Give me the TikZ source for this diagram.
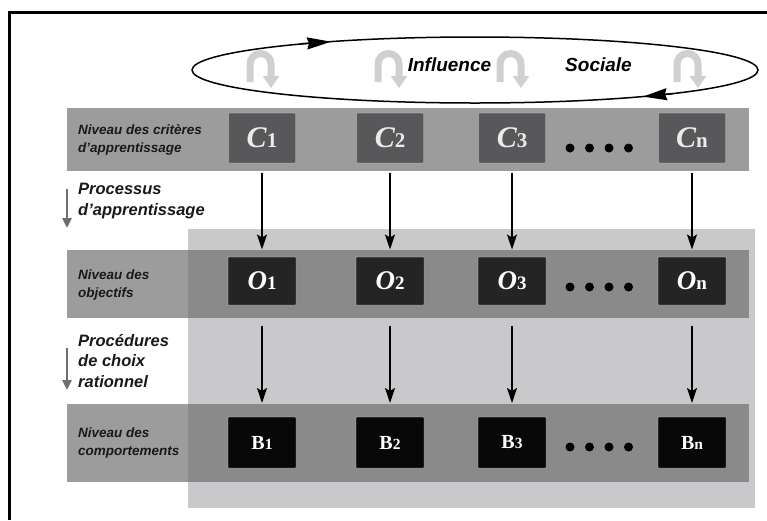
\documentclass[tikz,border=0pt]{standalone}
\usepackage{fontspec}
\setmainfont{Liberation Serif}
\setsansfont{Liberation Sans}
\usepackage{xcolor}
\usepackage{tikz}
\usetikzlibrary{arrows.meta}
\definecolor{BandGray}{RGB}{109,109,109}
\definecolor{PanelGray}{HTML}{C9C9CC}
\definecolor{CritGray}{HTML}{58585A}
\definecolor{ObjBlack}{HTML}{242424}
\definecolor{BehBlack}{HTML}{080808}
\definecolor{TurnGray}{HTML}{D0D0D0}
\definecolor{StepGray}{HTML}{6E6E6E}
\newcommand{\critlab}[1]{{\fontsize{30}{30}\selectfont\bfseries\itshape C}{\fontsize{21}{21}\selectfont\bfseries #1}}
\newcommand{\objlab}[1]{{\fontsize{27}{27}\selectfont\bfseries\itshape O}{\fontsize{19}{19}\selectfont\bfseries #1}}
\newcommand{\behlab}[1]{{\fontsize{20}{20}\selectfont\bfseries B}{\fontsize{15.5}{15.5}\selectfont\bfseries #1}}

\begin{document}
\begin{tikzpicture}[x=1pt,y=-1pt,
    band/.style={fill=BandGray,fill opacity=0.68},
    lvl/.style={anchor=west,align=left,inner sep=0pt,text=black!90,
      font=\sffamily\bfseries\itshape\fontsize{13.5}{18.5}\selectfont},
    proc/.style={anchor=west,align=left,inner sep=0pt,text=black!90,
      font=\sffamily\bfseries\itshape\fontsize{16.5}{20.5}\selectfont},
    social/.style={inner sep=0pt,font=\sffamily\bfseries\itshape\fontsize{19}{22}\selectfont},
    critbox/.style={fill=CritGray,draw=white,draw opacity=0.2,line width=1pt,rounded corners=1pt,
      minimum width=67pt,minimum height=50pt,inner sep=0pt,text=black!8},
    objbox/.style={fill=ObjBlack,draw=white,draw opacity=0.2,line width=1pt,rounded corners=1pt,
      minimum width=68pt,minimum height=48pt,inner sep=0pt,text=white},
    behbox/.style={fill=BehBlack,draw=white,draw opacity=0.2,line width=1pt,rounded corners=1pt,
      minimum width=68pt,minimum height=51pt,inner sep=0pt,text=white},
    flow/.style={-{Stealth[length=15pt,width=10pt,inset=3pt]},line width=1.8pt},
    stepdown/.style={StepGray,line width=2.5pt,-{Triangle[length=10pt,width=9pt]}},
    loophead/.style={line width=1.5pt,-{Stealth[length=24pt,width=12pt,inset=2pt]}},
  ]
  \useasboundingbox (0,0) rectangle (767,520);

  % frame
  \draw[line width=3pt] (9.5,520) -- (9.5,12.5) -- (767,12.5);

  % panel and level bands
  \fill[PanelGray] (188,229) rectangle (755,508);
  \fill[band] (67,108) rectangle (749,171);
  \fill[band] (67,250) rectangle (749,318);
  \fill[band] (67,404) rectangle (749,482);

  % social influence loop
  \draw[line width=1.5pt] (475,70) ellipse [x radius=283, y radius=33];
  \coordinate (topa) at (300,43.9);
  \coordinate (topb) at (331,41.7);
  \coordinate (bota) at (673,93.6);
  \coordinate (botb) at (643,96.6);
  \draw[loophead] (topa) -- (topb);
  \draw[loophead] (bota) -- (botb);
  \foreach \ux in {250,378,500,677}
    \draw[TurnGray,line width=7pt,-{Triangle[length=12pt,width=16pt]}]
      (\ux,82) -- (\ux,64) arc[start angle=180,end angle=360,radius=10.5] -- (\ux+21,88);
  \node[social] (infl) at (449.5,65) {Influence};
  \node[social] (soc) at (598.5,65) {Sociale};

  % level labels
  \node[lvl] (lvcrit) at (78,140) {Niveau des critères\\d'apprentissage};
  \node[proc] (apprent) at (78,201) {Processus\\d'apprentissage};
  \node[lvl] (lvobj) at (78,285) {Niveau des\\objectifs};
  \node[proc] (choix) at (78,361) {Procédures\\de choix\\rationnel};
  \node[lvl] (lvbeh) at (78,443) {Niveau des\\comportements};
  \coordinate (s1top) at (67,189);
  \coordinate (s1bot) at (67,228);
  \coordinate (s2top) at (67,348);
  \coordinate (s2bot) at (67,390);
  \draw[stepdown] (s1top) -- (s1bot);
  \draw[stepdown] (s2top) -- (s2bot);

  % criteria, objectives, behaviours
  \foreach \cx/\i in {262/1,390/2,512/3,692/n} {
    \node[critbox] (c\i) at (\cx,138) {\critlab{\i}};
    \node[objbox] (o\i) at (\cx,281) {\objlab{\i}};
    \node[behbox] (b\i) at (\cx,442.5) {\behlab{\i}};
    \draw[flow,shorten <=9pt,shorten >=7pt] (c\i) -- (o\i);
    \draw[flow,shorten <=20pt,shorten >=13.5pt] (o\i) -- (b\i);
  }
  \foreach \dy in {148,287,447}
    \foreach \dx in {570,589.5,609,628.5}
      \fill (\dx,\dy) circle[radius=4.5];
\end{tikzpicture}
\end{document}
